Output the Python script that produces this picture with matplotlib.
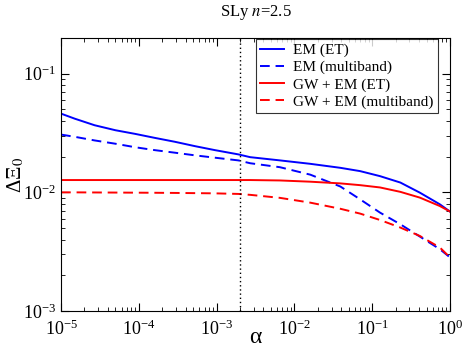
import numpy as np
import matplotlib
matplotlib.use("Agg")
import matplotlib.pyplot as plt

plt.rcParams['font.family'] = ['Liberation Serif', 'DejaVu Serif']
plt.rcParams['mathtext.fontset'] = 'stix'

# values
alpha = [1e-5, 1.5e-5, 2.7e-5, 5e-5, 9e-5, 1.6e-4, 2.9e-4, 5.3e-4, 9.5e-4,
         1.9e-3, 2.7e-3, 6.5e-3, 1.6e-2, 3.9e-2, 7e-2, 0.126, 0.23, 0.41,
         0.74, 1.0]
em_et = [0.0461, 0.0418, 0.0368, 0.0334, 0.0311, 0.0288, 0.0267, 0.0245,
         0.0227, 0.0209, 0.0198, 0.0186, 0.0174, 0.0161, 0.0151, 0.0137,
         0.0121, 0.00994, 0.00793, 0.00689]
em_mb = [0.0307, 0.0294, 0.0274, 0.0257, 0.0240, 0.0227, 0.0216, 0.0205,
         0.0196, 0.0186, 0.0176, 0.0163, 0.0141, 0.0112, 0.00873, 0.00675,
         0.00538, 0.00424, 0.00332, 0.00283]
gwem_et = [0.0127, 0.0127, 0.0127, 0.0127, 0.0127, 0.0127, 0.0127, 0.0127,
           0.0127, 0.0127, 0.0127, 0.0126, 0.0123, 0.0119, 0.0115, 0.0110,
           0.0101, 0.00903, 0.00767, 0.00689]
gwem_mb = [0.0100, 0.0100, 0.00998, 0.00996, 0.00994, 0.00992, 0.00989,
           0.00985, 0.00981, 0.00970, 0.00953, 0.00899, 0.00819, 0.00727,
           0.00662, 0.00585, 0.00505, 0.00429, 0.00343, 0.00283]
alpha_line = 2e-3

fig = plt.figure(figsize=(4.63, 3.52), dpi=100)
ax = fig.add_axes([0.1318, 0.1165, 0.8401, 0.7755])

ax.plot(alpha, em_et, color='#0000ff', lw=1.4, label='EM (ET)')
ax.plot(alpha, em_mb, color='#0000ff', lw=1.4, ls=(0, (5, 3)), label='EM (multiband)')
ax.plot(alpha, gwem_et, color='#ff0000', lw=1.4, label='GW + EM (ET)')
ax.plot(alpha, gwem_mb, color='#ff0000', lw=1.4, ls=(0, (5, 3)), label='GW + EM (multiband)')
ax.axvline(alpha_line, color='black', lw=1, ls=(0, (1, 2)))

ax.set_xscale('log')
ax.set_yscale('log')
ax.set_xlim(1e-5, 1)
ax.set_ylim(1e-3, 0.2)

ax.tick_params(which='both', direction='in', top=True, right=True, labelsize=13)
ax.tick_params(which='major', length=6)
ax.tick_params(which='minor', length=3)
ax.tick_params(axis='x', pad=6)

ax.set_xlabel('α', fontsize=17)
ax.xaxis.set_label_coords(0.5, -0.06)
ax.set_ylabel('ΔΞ$_0$', fontsize=15)
ax.yaxis.set_label_coords(-0.09, 0.5)
fig.text(255.5 / 463, 1 - 12 / 352, r'SLy $n$=2.5', fontsize=12,
         ha='center', va='center')

leg = ax.legend(loc='upper right', bbox_to_anchor=(0.968, 0.995), fontsize=11,
                frameon=True, fancybox=False, edgecolor='black',
                handlelength=1.6, borderpad=0.25, labelspacing=0.22,
                handletextpad=0.6, borderaxespad=0.0)
leg.get_frame().set_linewidth(0.8)

fig.savefig('out.png', dpi=100)
